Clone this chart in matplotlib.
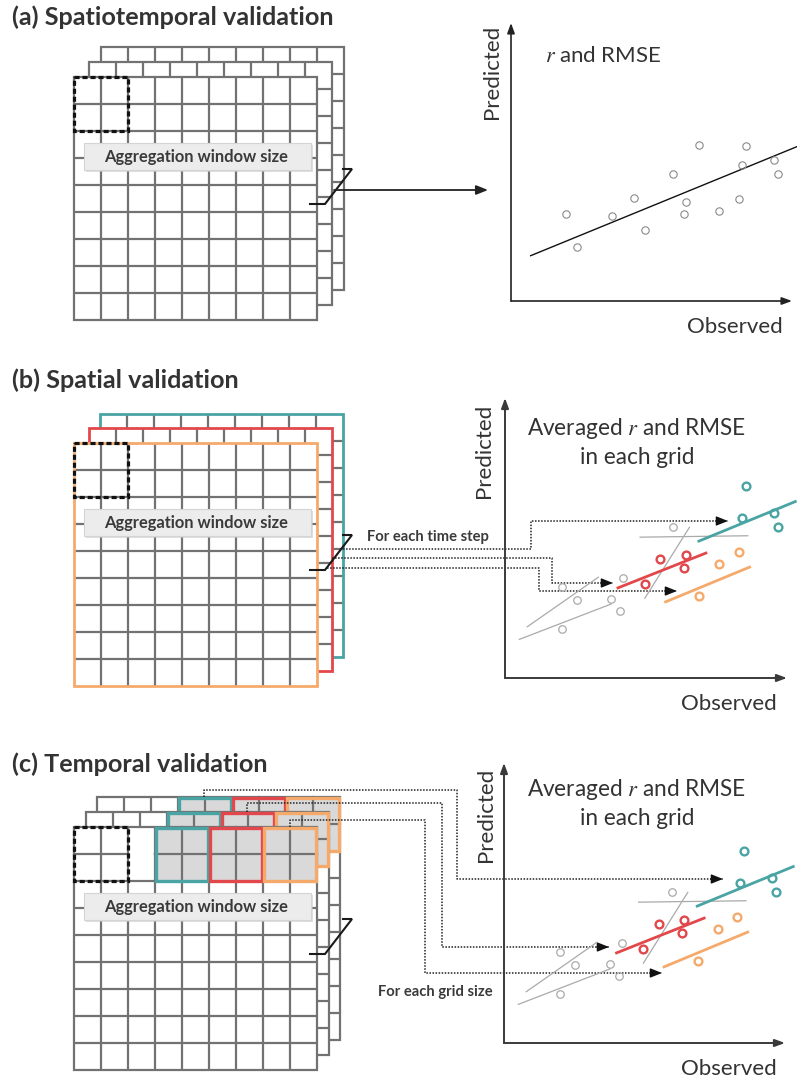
import matplotlib
matplotlib.use("Agg")
import matplotlib.pyplot as plt
from matplotlib.patches import Rectangle

plt.rcParams['mathtext.fontset'] = 'stix'
plt.rcParams['font.family'] = ['Lato', 'DejaVu Sans']

# ---------------- text ----------------
panel_titles = ["(a) Spatiotemporal validation", "(b) Spatial validation", "(c) Temporal validation"]
window_label = "Aggregation window size"
step_labels = ["", "For each time step", "For each grid size"]
metric_labels = ["$r$ and RMSE", "Averaged $r$ and RMSE\nin each grid", "Averaged $r$ and RMSE\nin each grid"]
x_label = "Observed"
y_label = "Predicted"

# ---------------- grid structure ----------------
grid_cells = 9          # 9 x 9 cells per layer
window_cells = 2        # aggregation window 2 x 2
block_cols = [3, 5, 7]  # first column of the highlighted 2x2 blocks in (c)

# ---------------- scatter (a) ----------------
a_obs = [1.95, 2.34, 3.59, 4.38, 4.76, 5.78, 6.70, 6.22, 6.16, 7.41, 8.10, 8.21, 8.35, 9.37, 9.49]
a_pred = [3.13, 1.95, 3.06, 3.72, 2.54, 4.58, 5.61, 3.57, 3.13, 3.24, 3.68, 4.89, 5.56, 5.08, 4.58]
a_fit_obs = [0.70, 10.17]
a_fit_pred = [1.63, 5.55]

# ---------------- scatter (b) and (c) ----------------
gray_obs = [2.01, 2.54, 2.01, 3.76, 4.08, 4.20, 5.97]
gray_pred = [3.24, 2.79, 1.75, 2.82, 2.40, 3.56, 5.38]
gray_fit_obs = [[0.79, 3.31], [0.51, 3.76], [4.79, 8.61], [4.96, 6.54]]
gray_fit_pred = [[1.83, 3.60], [1.38, 2.64], [5.03, 5.08], [2.85, 5.38]]
red_obs = [5.50, 6.41, 6.35, 4.96]
red_pred = [4.26, 4.40, 3.93, 3.36]
red_fit_obs = [3.96, 7.17]
red_fit_pred = [3.20, 4.48]
orange_obs = [7.60, 8.29, 6.89]
orange_pred = [4.06, 4.49, 2.93]
orange_fit_obs = [5.65, 8.72]
orange_fit_pred = [2.70, 3.98]
teal_obs = [8.55, 8.39, 9.55, 9.67]
teal_pred = [6.86, 5.70, 5.88, 5.39]
teal_fit_obs = [6.83, 10.34]
teal_fit_pred = [4.87, 6.32]

# ---------------- style ----------------
TEAL = '#4aa4a4'
RED = '#e2474b'
ORANGE = '#f5aa6c'
GLINE = '#727272'
BLOCK = '#d9d9d9'
TXT = '#333333'

W, H = 797, 1082
fig = plt.figure(figsize=(W / 100, H / 100), dpi=100)
ax = fig.add_axes([0, 0, 1, 1])
ax.set_xlim(0, W)
ax.set_ylim(H, 0)
ax.axis('off')

CELL = 27.0
LW = 1.6


def draw_layer(x0, y0, z, border=GLINE, blocks=False, skip_col2=False):
    n = grid_cells
    size = n * CELL
    ax.add_patch(Rectangle((x0, y0), size, size, facecolor='white', edgecolor='none', zorder=z))
    for i in range(1, n):
        ax.plot([x0 + i * CELL] * 2, [y0, y0 + size], color=GLINE, lw=LW, zorder=z + 0.1,
                solid_capstyle='butt')
        if skip_col2 and i == 1:
            ax.plot([x0, x0 + 2 * CELL], [y0 + CELL] * 2, color=GLINE, lw=LW, zorder=z + 0.1)
            ax.plot([x0 + 3 * CELL, x0 + size], [y0 + CELL] * 2, color=GLINE, lw=LW, zorder=z + 0.1)
        else:
            ax.plot([x0, x0 + size], [y0 + i * CELL] * 2, color=GLINE, lw=LW, zorder=z + 0.1,
                    solid_capstyle='butt')
    ax.add_patch(Rectangle((x0, y0), size, size, facecolor='none', edgecolor=border,
                           lw=LW if border == GLINE else 2.0, zorder=z + 0.2))
    if blocks:
        for c, col in zip(block_cols, [TEAL, RED, ORANGE]):
            bx = x0 + c * CELL
            ax.add_patch(Rectangle((bx, y0), 2 * CELL, 2 * CELL, facecolor=BLOCK, edgecolor='none',
                                   zorder=z + 0.3))
            ax.plot([bx + CELL] * 2, [y0, y0 + 2 * CELL], color=GLINE, lw=LW, zorder=z + 0.35)
            ax.plot([bx, bx + 2 * CELL], [y0 + CELL] * 2, color=GLINE, lw=LW, zorder=z + 0.35)
            ax.add_patch(Rectangle((bx + 1, y0 + 0.5), 2 * CELL - 2, 2 * CELL - 1, facecolor='none',
                                   edgecolor=col, lw=2.4, zorder=z + 0.4))


def draw_stack(y0, offsets, borders, blocks=False):
    x0 = 74
    n = len(offsets)
    for k in range(n - 1, -1, -1):
        dx, dy = offsets[k]
        draw_layer(x0 + dx, y0 + dy, z=2 + (n - 1 - k), border=borders[k], blocks=blocks,
                   skip_col2=(blocks and k == 0))
    zt = 2 + n
    # aggregation window (dashed)
    ax.add_patch(Rectangle((x0, y0), window_cells * CELL, window_cells * CELL, facecolor='none',
                           edgecolor='#111111', lw=2.3, ls=(0, (1.6, 0.9)), zorder=zt + 0.5))
    # label box with shadow
    ax.add_patch(Rectangle((86, y0 + 68), 227, 27, facecolor='#c8c8c8', edgecolor='none',
                           alpha=0.6, zorder=zt + 0.6))
    ax.add_patch(Rectangle((84, y0 + 66), 227, 27, facecolor='#ececec', edgecolor='#d4d4d4',
                           lw=0.8, zorder=zt + 0.7))
    t = ax.text(196, y0 + 85, window_label, ha='center', va='baseline', fontsize=12.5,
                fontweight='bold', color='#3a3a3a', zorder=zt + 0.8)
    # break connector
    ax.plot([343, 352, 325, 310], [y0 + 92, y0 + 92, y0 + 127, y0 + 127], color='#1a1a1a',
            lw=1.5, zorder=zt + 0.9, solid_joinstyle='miter')
    return t


def dotted_arrow(xs, ys):
    ax.plot(xs, ys, color='#222222', lw=1.1, ls=(0, (1, 1)), zorder=20)
    ax.annotate('', xy=(xs[-1], ys[-1]), xytext=(xs[-1] - 12, ys[-1]),
                arrowprops=dict(arrowstyle='-|>,head_length=0.7,head_width=0.28', color='#111111',
                                lw=1.0, shrinkA=0, shrinkB=0), zorder=21)


def scatter_axes(x0, y0, x1, ytop, axcolor, alw):
    a = fig.add_axes([x0 / W, 1 - y0 / H, (x1 - x0) / W, (y0 - ytop) / H])
    a.set_xlim(0, 10)
    a.set_ylim(0, 10)
    a.axis('off')
    a.patch.set_alpha(0)
    for xy in [(10, 0), (0, 10)]:
        a.annotate('', xy=xy, xytext=(0, 0), xycoords='data',
                   arrowprops=dict(arrowstyle='-|>,head_length=0.6,head_width=0.22', color=axcolor,
                                   lw=alw, shrinkA=0, shrinkB=0), annotation_clip=False)
    return a


# ---------------- titles ----------------
title_y = [25, 388, 772]
titles = []
for s, yb in zip(panel_titles, title_y):
    titles.append(ax.text(12, yb, s, ha='left', va='baseline', fontsize=16, fontweight='bold',
                          color=TXT))

# ---------------- (a) ----------------
lab = draw_stack(77, [(0, 0), (15, -15), (27, -30)], [GLINE, GLINE, GLINE])
ax.annotate('', xy=(488, 190), xytext=(334, 190),
            arrowprops=dict(arrowstyle='-|>,head_length=0.7,head_width=0.28', color='#222222',
                            lw=1.3, shrinkA=0, shrinkB=0), zorder=20)
sa = scatter_axes(511, 301, 792, 23, '#222222', 1.2)
sa.plot(a_fit_obs, a_fit_pred, color='#111111', lw=1.0, clip_on=False)
sa.plot(a_obs, a_pred, 'o', mfc='none', mec='#8a8a8a', ms=5.3, mew=0.8, clip_on=False)

# ---------------- (b) ----------------
draw_stack(443, [(0, 0), (15, -15), (26, -29)], [ORANGE, RED, TEAL])
dotted_arrow([343, 531, 531, 728], [549, 549, 521, 521])
dotted_arrow([332, 552, 552, 613], [558, 558, 583, 583])
dotted_arrow([327, 539, 539, 677], [568, 568, 591, 591])

# ---------------- (c) ----------------
draw_stack(827, [(0, 0), (12, -15), (23, -30)], [GLINE, GLINE, GLINE], blocks=True)
dotted_arrow([204, 204, 457, 457, 723], [797, 790, 790, 879, 879])
dotted_arrow([247, 247, 442, 442, 609], [812, 803, 803, 947, 947])
dotted_arrow([290, 290, 425, 425, 662], [827, 820, 820, 973, 973])


def grid_scatter(a):
    for xo, yo in zip(gray_fit_obs, gray_fit_pred):
        a.plot(xo, yo, color='#aaaaaa', lw=0.9, clip_on=False)
    a.plot(gray_obs, gray_pred, 'o', mfc='none', mec='#aaaaaa', ms=5.4, mew=0.9, clip_on=False)
    for fo, fp, o, p, c in [(red_fit_obs, red_fit_pred, red_obs, red_pred, RED),
                            (orange_fit_obs, orange_fit_pred, orange_obs, orange_pred, ORANGE),
                            (teal_fit_obs, teal_fit_pred, teal_obs, teal_pred, TEAL)]:
        a.plot(fo, fp, color=c, lw=2.0, clip_on=False, solid_capstyle='butt')
        a.plot(o, p, 'o', mfc='none', mec=c, ms=5.6, mew=1.7, clip_on=False)


sb = scatter_axes(505, 678, 787, 398, '#3a3a3a', 1.4)
grid_scatter(sb)
sc = scatter_axes(504, 1043, 785, 763, '#3a3a3a', 1.4)
grid_scatter(sc)

# ---------------- axis labels / metric texts ----------------
obs_texts = []
for xc, yb in [(735, 333), (729, 710), (729, 1075)]:
    obs_texts.append(ax.text(xc, yb, x_label, ha='center', va='baseline', fontsize=15, color=TXT))
pred_texts = []
for xb, yc in [(498, 72), (490, 451), (492, 815)]:
    pred_texts.append(ax.text(xb, yc, y_label, ha='center', va='baseline', rotation=90,
                              rotation_mode='anchor', fontsize=15, color=TXT))
m1 = ax.text(545, 62, metric_labels[0], ha='left', va='baseline', fontsize=15, color=TXT)
m_texts = []
for yb1 in [435, 796]:
    l1, l2 = metric_labels[1].split('\n')
    t1 = ax.text(637, yb1, l1, ha='center', va='baseline', fontsize=15, color=TXT)
    t2 = ax.text(637, yb1 + 29, l2, ha='center', va='baseline', fontsize=15, color=TXT)
    m_texts += [t1, t2]
st_b = ax.text(367, 541, step_labels[1], ha='left', va='baseline', fontsize=9.5,
               fontweight='bold', color='#3a3a3a', zorder=22)
st_c = ax.text(378, 996, step_labels[2], ha='left', va='baseline', fontsize=9.5,
               fontweight='bold', color='#3a3a3a', zorder=22)

# ---------------- fit text sizes to measured widths ----------------
fig.canvas.draw()
r = fig.canvas.get_renderer()


def fit(t, target):
    w = t.get_window_extent(r).width
    return t.get_fontsize() * target / w


s_title = fit(titles[0], 323)
for t in titles:
    t.set_fontsize(s_title)
s_obs = fit(obs_texts[0], 96)
for t in obs_texts + pred_texts + [m1]:
    t.set_fontsize(s_obs)
s_m = fit(m_texts[0], 220)
for t in m_texts:
    t.set_fontsize(s_m)
s_st = fit(st_c, 114)
st_b.set_fontsize(s_st)
st_c.set_fontsize(s_st)
s_lab = fit(lab, 186)
for t in ax.texts:
    if t.get_text() == window_label:
        t.set_fontsize(s_lab)

fig.savefig('out.png', dpi=100)
